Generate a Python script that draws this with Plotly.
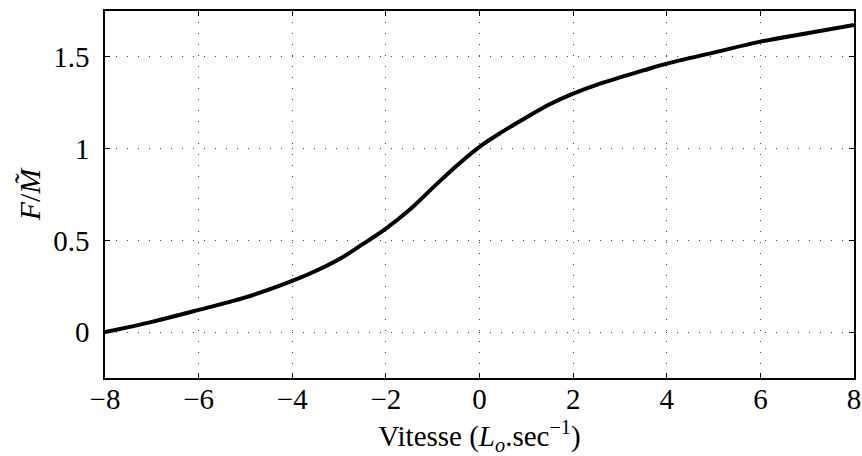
import plotly.graph_objects as go

velocity = [-8, -7, -6, -5, -4, -3.5, -3, -2.5, -2, -1.5, -1, -0.5, 0,
            0.5, 1, 1.5, 2, 2.5, 3, 3.5, 4, 5, 6, 7, 8]
force = [0.0, 0.056, 0.121, 0.189, 0.279, 0.333, 0.397, 0.478, 0.564, 0.665,
         0.786, 0.904, 1.01, 1.094, 1.17, 1.242, 1.30, 1.348, 1.388, 1.426,
         1.463, 1.523, 1.583, 1.629, 1.674]

x_ticks = [-8, -6, -4, -2, 0, 2, 4, 6, 8]
x_ticklabels = ["−8", "−6", "−4", "−2", "0", "2", "4", "6", "8"]
y_ticks = [0, 0.5, 1, 1.5]
y_ticklabels = ["0", "0.5", "1", "1.5"]

font_family = "Liberation Serif, DejaVu Serif, serif"

fig = go.Figure()
fig.add_trace(go.Scatter(
    x=velocity, y=force, mode="lines",
    line=dict(color="black", width=4, shape="spline", smoothing=1.0),
    showlegend=False,
))

axis_common = dict(
    showline=True, linecolor="black", linewidth=1.5, mirror="allticks",
    ticks="inside", ticklen=5, tickwidth=1, tickcolor="black",
    showgrid=True, gridcolor="#444444", griddash="1px,10px", gridwidth=1,
    zeroline=False,
    tickfont=dict(family=font_family, size=29, color="black"),
)

fig.update_xaxes(
    range=[-8, 8], tickvals=x_ticks, ticktext=x_ticklabels,
    ticklabelstandoff=-6,
    title=dict(text="Vitesse (<i>L</i><sub><i>o</i></sub>.sec<sup>−1</sup>)",
               font=dict(family=font_family, size=29, color="black"), standoff=14),
    **axis_common,
)
fig.update_yaxes(
    range=[-0.25, 1.75], tickvals=y_ticks, ticktext=y_ticklabels,
    ticklabelstandoff=8,
    title=dict(text="<i>F</i>/<i>M̃</i>",
               font=dict(family=font_family, size=30, color="black"), standoff=4),
    **axis_common,
)

fig.update_layout(
    width=862, height=456,
    margin=dict(l=105, r=8, t=11, b=78, autoexpand=False),
    plot_bgcolor="white", paper_bgcolor="white",
    font=dict(family=font_family, color="black"),
)

fig.write_html("out.html", config={"displayModeBar": False},
               post_script="document.body.style.margin='0';")
